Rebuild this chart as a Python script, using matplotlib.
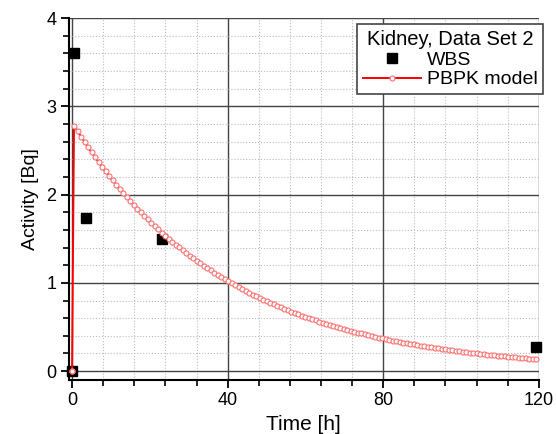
import matplotlib.pyplot as plt
from matplotlib.ticker import MultipleLocator

plt.rcParams['font.family'] = ['Liberation Sans', 'DejaVu Sans']

# measured whole-body scan points
wbs_t = [0.0, 0.5, 3.5, 23.2, 119.4]
wbs_a = [0.0, 3.60, 1.73, 1.50, 0.27]

# PBPK model output (sampled every 0.9 h after the injection peak)
model_step = 0.9
model_a = [
    2.780, 2.717, 2.656, 2.596, 2.537, 2.480, 2.424, 2.369, 2.315, 2.263,
    2.212, 2.162, 2.113, 2.065, 2.019, 1.973, 1.929, 1.885, 1.842, 1.801,
    1.760, 1.720, 1.681, 1.643, 1.606, 1.570, 1.535, 1.500, 1.466, 1.433,
    1.401, 1.369, 1.338, 1.308, 1.278, 1.249, 1.221, 1.193, 1.166, 1.140,
    1.114, 1.089, 1.065, 1.041, 1.017, 0.994, 0.972, 0.950, 0.928, 0.907,
    0.887, 0.867, 0.847, 0.828, 0.809, 0.791, 0.773, 0.756, 0.739, 0.722,
    0.706, 0.690, 0.674, 0.659, 0.644, 0.629, 0.615, 0.601, 0.588, 0.574,
    0.561, 0.549, 0.536, 0.524, 0.512, 0.501, 0.489, 0.478, 0.468, 0.457,
    0.447, 0.437, 0.427, 0.417, 0.408, 0.398, 0.389, 0.381, 0.372, 0.364,
    0.356, 0.347, 0.340, 0.332, 0.324, 0.317, 0.310, 0.303, 0.296, 0.289,
    0.283, 0.276, 0.270, 0.264, 0.258, 0.252, 0.247, 0.241, 0.236, 0.230,
    0.225, 0.220, 0.215, 0.210, 0.205, 0.201, 0.196, 0.192, 0.187, 0.183,
    0.179, 0.175, 0.171, 0.167, 0.163, 0.160, 0.156, 0.153, 0.149, 0.146,
    0.143, 0.139, 0.136,
]
model_t = [0.0] + [round(0.5 + model_step * i, 2) for i in range(len(model_a))]
model_a = [0.0] + model_a


def main():
    fig = plt.figure(figsize=(5.56, 4.34), dpi=100)
    ax = fig.add_axes([0.124, 0.1245, 0.845, 0.834])

    ax.plot(model_t, model_a, color='red', lw=1.4, marker='o', ms=3.6,
            mfc='white', mec='#ff7070', mew=0.8, label='PBPK model',
            clip_on=False, zorder=3)
    ax.plot(wbs_t, wbs_a, ls='none', marker='s', ms=7, color='black',
            label='WBS', clip_on=False, zorder=2)
    # the origin marker is mostly hidden under the model's first point
    ax.plot([0], [0], marker='o', ms=3.6, mfc='white', mec='#ff7070',
            ls='none', clip_on=False, zorder=4)

    ax.set_xlim(-0.8, 120)
    ax.set_ylim(-0.1, 4.0)
    ax.xaxis.set_major_locator(MultipleLocator(40))
    ax.xaxis.set_minor_locator(MultipleLocator(8))
    ax.yaxis.set_major_locator(MultipleLocator(1))
    ax.yaxis.set_minor_locator(MultipleLocator(0.2))

    ax.grid(which='major', color='#444444', lw=1.0, ls='-')
    ax.grid(which='minor', color='#bbbbbb', lw=0.8, ls=':')
    ax.set_axisbelow(True)
    ax.get_ygridlines()[-1].set_visible(False)

    for s in ['top', 'right']:
        ax.spines[s].set_visible(False)
    for s in ['left', 'bottom']:
        ax.spines[s].set_linewidth(1.5)

    ax.tick_params(which='major', direction='out', length=6, width=1.3,
                   labelsize=13, pad=3)
    ax.tick_params(which='minor', direction='out', length=4, width=1.2)

    ax.set_xlabel('Time [h]', fontsize=15, labelpad=4)
    ax.set_ylabel('Activity [Bq]', fontsize=14, labelpad=5)

    handles, labels = ax.get_legend_handles_labels()
    leg = ax.legend(handles[:2][::-1], labels[:2][::-1],
                    title='Kidney, Data Set 2', loc='upper right',
                    bbox_to_anchor=(1.018, 0.993), fontsize=14,
                    title_fontsize=14.5, fancybox=False, edgecolor='#444444',
                    framealpha=1, borderpad=0.3, handlelength=3.0,
                    handletextpad=0.3, labelspacing=0.1, markerscale=1.0,
                    borderaxespad=0.2)
    leg.get_frame().set_linewidth(1.2)
    leg._legend_box.align = 'center'

    fig.savefig('out.png', dpi=100)


if __name__ == '__main__':
    main()
